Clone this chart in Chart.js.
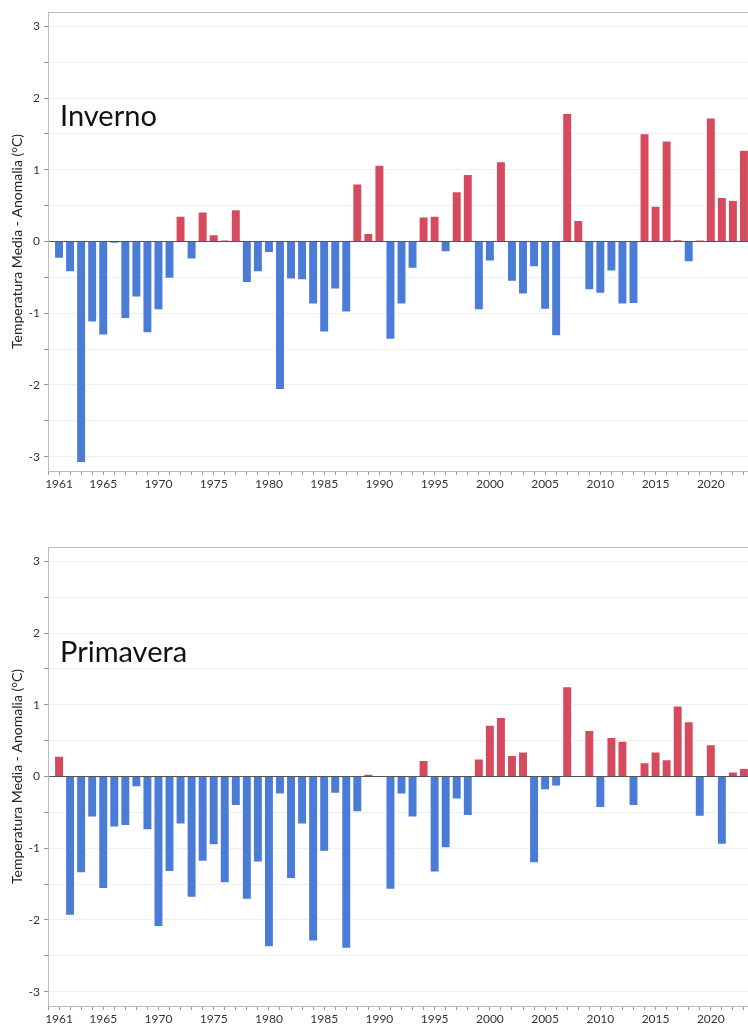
<!DOCTYPE html>
<html>
<head>
<meta charset="utf-8">
<script src="https://cdn.jsdelivr.net/npm/chart.js@4"></script>
<style>
  body { margin: 0; width: 748px; height: 1027px; overflow: hidden; background: #fff; font-family: Lato, sans-serif; }
  .box { position: absolute; left: 0; width: 760px; height: 500px; }
  .lbl { position: absolute; left: 60px; font: 29px/29px Lato, sans-serif; color: #111; }
</style>
</head>
<body>
<div class="box" style="top:0"><canvas id="inverno"></canvas></div>
<div class="box" style="top:535px"><canvas id="primavera"></canvas></div>
<div class="lbl" style="top:100px">Inverno</div>
<div class="lbl" style="top:636px">Primavera</div>
<script>
const years = [
  1961, 1962, 1963, 1964, 1965, 1966, 1967, 1968, 1969, 1970,
  1971, 1972, 1973, 1974, 1975, 1976, 1977, 1978, 1979, 1980,
  1981, 1982, 1983, 1984, 1985, 1986, 1987, 1988, 1989, 1990,
  1991, 1992, 1993, 1994, 1995, 1996, 1997, 1998, 1999, 2000,
  2001, 2002, 2003, 2004, 2005, 2006, 2007, 2008, 2009, 2010,
  2011, 2012, 2013, 2014, 2015, 2016, 2017, 2018, 2019, 2020,
  2021, 2022, 2023
];

// anomalie inverno (°C)
const inverno = [
  -0.24, -0.43, -3.09, -1.13, -1.31, -0.03, -1.08, -0.78, -1.28, -0.96,
  -0.52, 0.36, -0.25, 0.42, 0.10, 0.02, 0.45, -0.58, -0.43, -0.16,
  -2.07, -0.53, -0.54, -0.88, -1.27, -0.67, -0.99, 0.81, 0.12, 1.07,
  -1.37, -0.88, -0.38, 0.35, 0.36, -0.15, 0.70, 0.94, -0.96, -0.28,
  1.12, -0.56, -0.74, -0.36, -0.95, -1.32, 1.79, 0.30, -0.68, -0.73,
  -0.42, -0.88, -0.87, 1.51, 0.50, 1.41, 0.03, -0.29, 0.02, 1.73,
  0.62, 0.58, 1.28
];

// anomalie primavera (°C)
const primavera = [
  0.29, -1.94, -1.35, -0.57, -1.57, -0.71, -0.69, -0.15, -0.75, -2.10,
  -1.33, -0.67, -1.69, -1.19, -0.96, -1.49, -0.41, -1.72, -1.20, -2.38,
  -0.25, -1.43, -0.67, -2.30, -1.05, -0.24, -2.40, -0.50, 0.04, 0.00,
  -1.58, -0.25, -0.57, 0.23, -1.34, -1.00, -0.32, -0.55, 0.25, 0.72,
  0.83, 0.30, 0.35, -1.21, -0.19, -0.14, 1.26, 0.00, 0.65, -0.44,
  0.55, 0.50, -0.41, 0.20, 0.35, 0.24, 0.99, 0.77, -0.56, 0.45,
  -0.95, 0.07, 0.12
];

const yTicks = [-3, -2, -1, 0, 1, 2, 3];
const yTitle = "Temperatura Media - Anomalia (°C)";

const RED = "#d64a5e";
const BLUE = "#4a7cd7";

function makeChart(id, values) {
  return new Chart(document.getElementById(id), {
    type: "bar",
    data: {
      datasets: [{
        data: years.map((y, i) => ({ x: y, y: values[i] })),
        backgroundColor: (c) => (c.raw && c.raw.y >= 0 ? RED : BLUE),
        borderColor: "rgba(255,255,255,0.35)",
        borderWidth: 1,
        categoryPercentage: 1,
        barPercentage: 0.9,
      }],
    },
    options: {
      responsive: true,
      maintainAspectRatio: false,
      animation: false,
      layout: { padding: { top: 12, right: 5, left: 0, bottom: 0 } },
      scales: {
        x: {
          type: "linear",
          min: 1960,
          max: 2024,
          offset: false,
          afterFit: (s) => { s.height = 29; },
          grid: { offset: false, drawOnChartArea: false, drawTicks: true, tickLength: 4, tickColor: "#999" },
          border: { color: "#bbb" },
          ticks: {
            stepSize: 1,
            autoSkip: false,
            maxRotation: 0,
            padding: 2,
            color: "#333",
            font: { family: "Lato", size: 12 },
            callback: (v) => (v >= 1961 && (v === 1961 || v % 5 === 0) ? String(v) : ""),
          },
        },
        y: {
          min: -3.2,
          max: 3.2,
          afterFit: (s) => { s.width = 48; },
          grid: {
            color: (c) => (c.tick.value === 0 ? "#555" : Math.abs(c.tick.value) > 3.1 ? "#bbb" : "#efefef"),
            tickColor: (c) => (Math.abs(c.tick.value) > 3.1 ? "rgba(0,0,0,0)" : "#999"),
            tickLength: 4,
          },
          border: { color: "#bbb" },
          ticks: {
            stepSize: 0.5,
            padding: 4,
            color: "#333",
            font: { family: "Lato", size: 12 },
            callback: (v) => (yTicks.includes(v) ? String(v) : ""),
          },
          title: {
            display: true,
            text: yTitle,
            color: "#222",
            font: { family: "Lato", size: 14 },
            padding: { top: 9, bottom: 0 },
          },
        },
      },
      plugins: {
        legend: { display: false },
        tooltip: { enabled: false },
      },
    },
  });
}

makeChart("inverno", inverno);
makeChart("primavera", primavera);
</script>
</body>
</html>
